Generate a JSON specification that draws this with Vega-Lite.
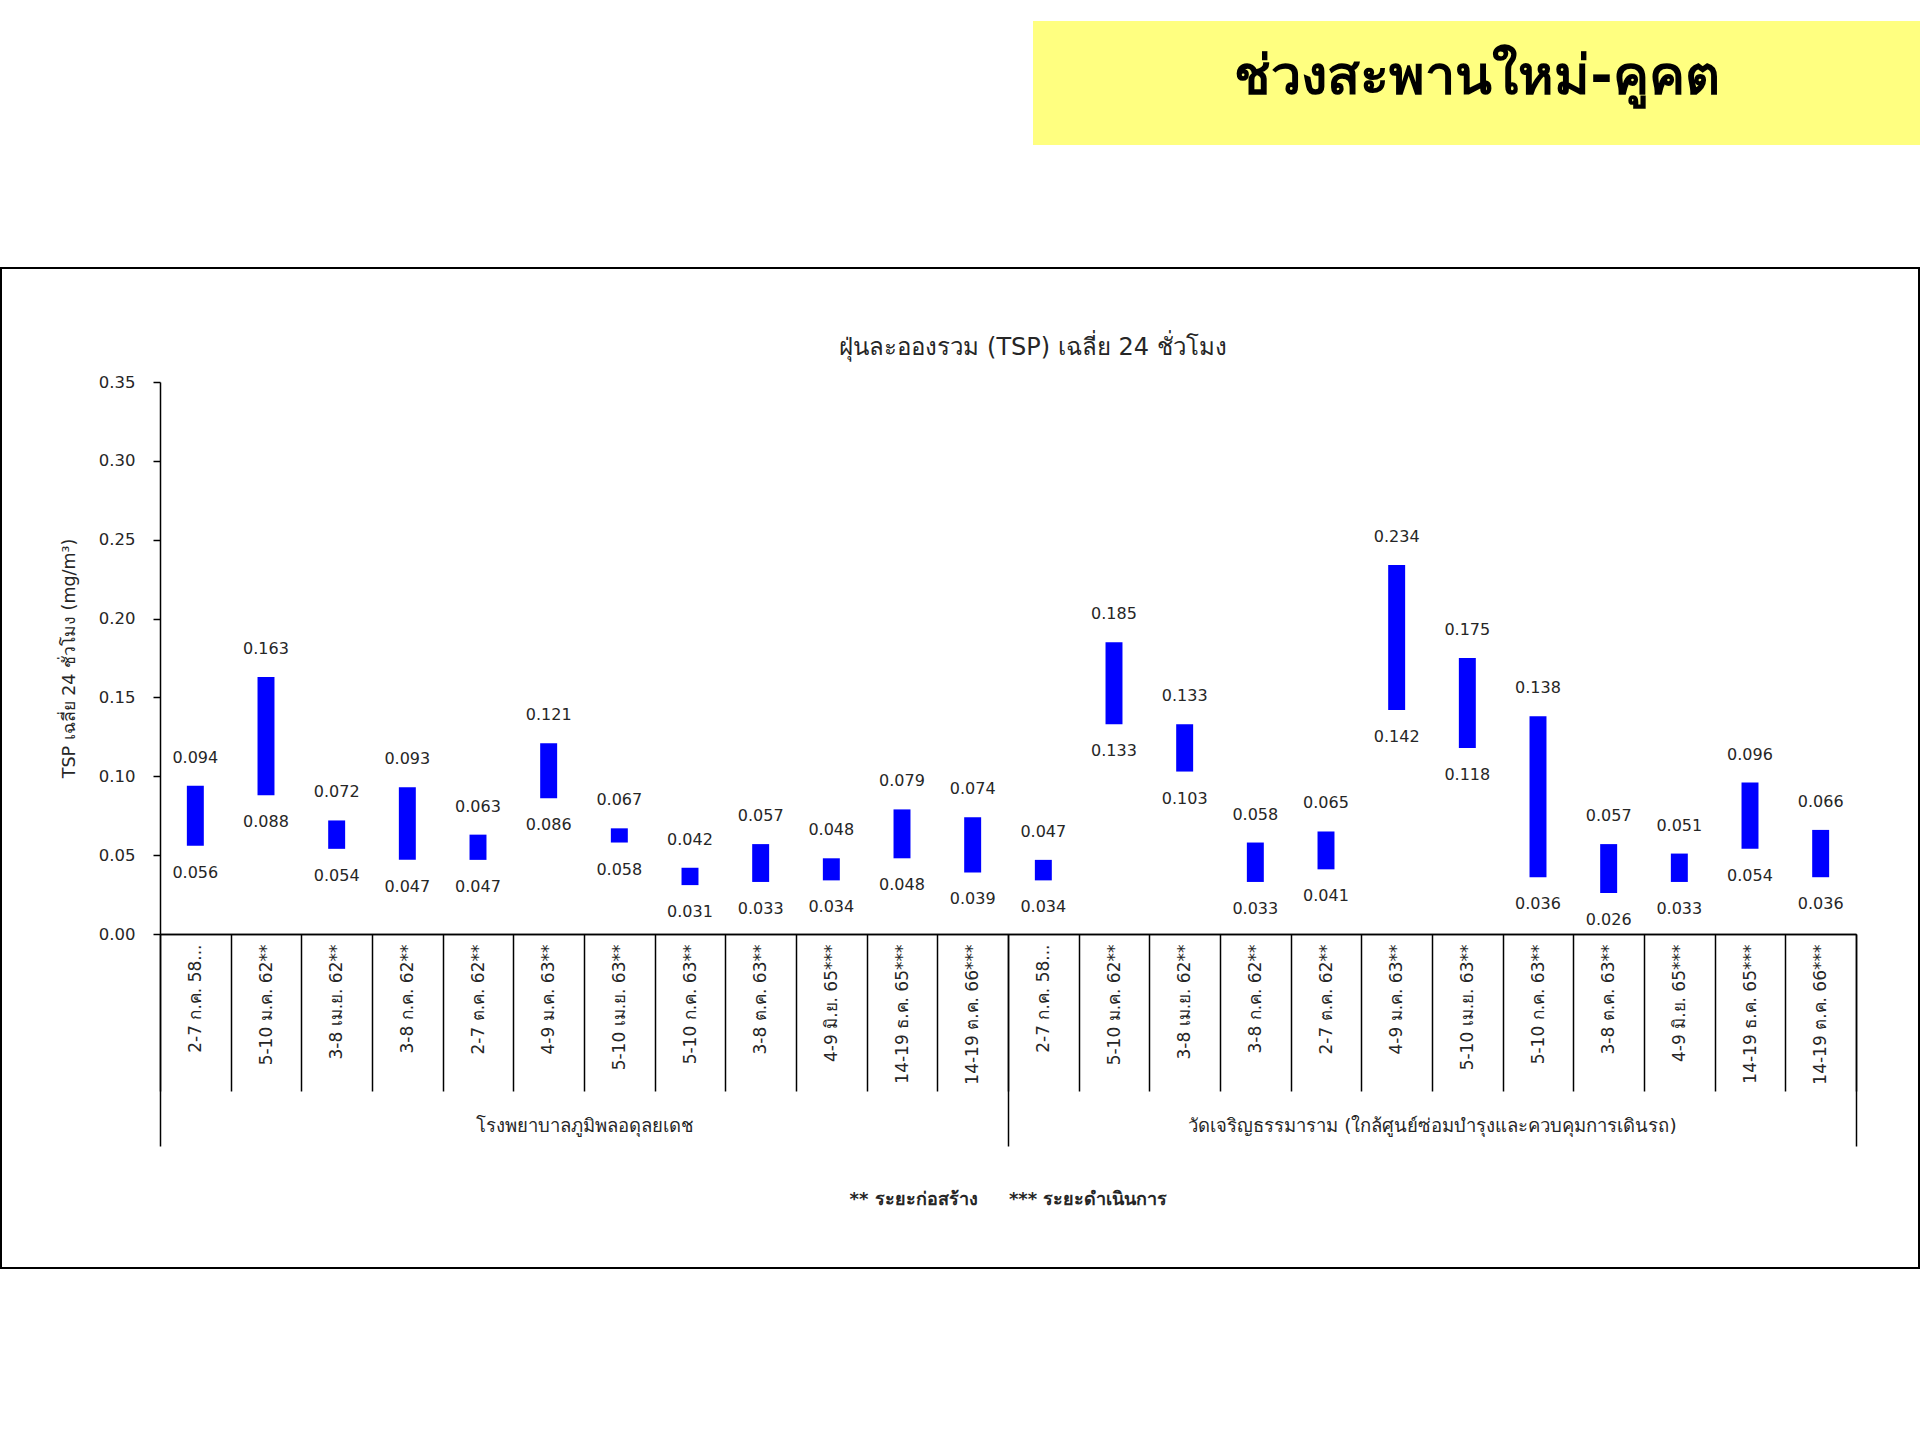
{
  "$schema": "https://vega.github.io/schema/vega-lite/v6.json",
  "background": "white",
  "padding": {"top": 21, "left": -9, "right": 0, "bottom": 0},
  "config": {"view": {"stroke": null}, "font": "DejaVu Sans"},
  "datasets": {
    "tsp": [
      {"g": "โรงพยาบาลภูมิพลอดุลยเดช", "k": "1|2-7 ก.ค. 58...", "min": 0.056, "max": 0.094},
      {"g": "โรงพยาบาลภูมิพลอดุลยเดช", "k": "1|5-10 ม.ค. 62**", "min": 0.088, "max": 0.163},
      {"g": "โรงพยาบาลภูมิพลอดุลยเดช", "k": "1|3-8 เม.ย. 62**", "min": 0.054, "max": 0.072},
      {"g": "โรงพยาบาลภูมิพลอดุลยเดช", "k": "1|3-8 ก.ค. 62**", "min": 0.047, "max": 0.093},
      {"g": "โรงพยาบาลภูมิพลอดุลยเดช", "k": "1|2-7 ต.ค. 62**", "min": 0.047, "max": 0.063},
      {"g": "โรงพยาบาลภูมิพลอดุลยเดช", "k": "1|4-9 ม.ค. 63**", "min": 0.086, "max": 0.121},
      {"g": "โรงพยาบาลภูมิพลอดุลยเดช", "k": "1|5-10 เม.ย. 63**", "min": 0.058, "max": 0.067},
      {"g": "โรงพยาบาลภูมิพลอดุลยเดช", "k": "1|5-10 ก.ค. 63**", "min": 0.031, "max": 0.042},
      {"g": "โรงพยาบาลภูมิพลอดุลยเดช", "k": "1|3-8 ต.ค. 63**", "min": 0.033, "max": 0.057},
      {"g": "โรงพยาบาลภูมิพลอดุลยเดช", "k": "1|4-9 มิ.ย. 65***", "min": 0.034, "max": 0.048},
      {"g": "โรงพยาบาลภูมิพลอดุลยเดช", "k": "1|14-19 ธ.ค. 65***", "min": 0.048, "max": 0.079},
      {"g": "โรงพยาบาลภูมิพลอดุลยเดช", "k": "1|14-19 ต.ค. 66***", "min": 0.039, "max": 0.074},
      {"g": "วัดเจริญธรรมาราม (ใกล้ศูนย์ซ่อมบำรุงและควบคุมการเดินรถ)", "k": "2|2-7 ก.ค. 58...", "min": 0.034, "max": 0.047},
      {"g": "วัดเจริญธรรมาราม (ใกล้ศูนย์ซ่อมบำรุงและควบคุมการเดินรถ)", "k": "2|5-10 ม.ค. 62**", "min": 0.133, "max": 0.185},
      {"g": "วัดเจริญธรรมาราม (ใกล้ศูนย์ซ่อมบำรุงและควบคุมการเดินรถ)", "k": "2|3-8 เม.ย. 62**", "min": 0.103, "max": 0.133},
      {"g": "วัดเจริญธรรมาราม (ใกล้ศูนย์ซ่อมบำรุงและควบคุมการเดินรถ)", "k": "2|3-8 ก.ค. 62**", "min": 0.033, "max": 0.058},
      {"g": "วัดเจริญธรรมาราม (ใกล้ศูนย์ซ่อมบำรุงและควบคุมการเดินรถ)", "k": "2|2-7 ต.ค. 62**", "min": 0.041, "max": 0.065},
      {"g": "วัดเจริญธรรมาราม (ใกล้ศูนย์ซ่อมบำรุงและควบคุมการเดินรถ)", "k": "2|4-9 ม.ค. 63**", "min": 0.142, "max": 0.234},
      {"g": "วัดเจริญธรรมาราม (ใกล้ศูนย์ซ่อมบำรุงและควบคุมการเดินรถ)", "k": "2|5-10 เม.ย. 63**", "min": 0.118, "max": 0.175},
      {"g": "วัดเจริญธรรมาราม (ใกล้ศูนย์ซ่อมบำรุงและควบคุมการเดินรถ)", "k": "2|5-10 ก.ค. 63**", "min": 0.036, "max": 0.138},
      {"g": "วัดเจริญธรรมาราม (ใกล้ศูนย์ซ่อมบำรุงและควบคุมการเดินรถ)", "k": "2|3-8 ต.ค. 63**", "min": 0.026, "max": 0.057},
      {"g": "วัดเจริญธรรมาราม (ใกล้ศูนย์ซ่อมบำรุงและควบคุมการเดินรถ)", "k": "2|4-9 มิ.ย. 65***", "min": 0.033, "max": 0.051},
      {"g": "วัดเจริญธรรมาราม (ใกล้ศูนย์ซ่อมบำรุงและควบคุมการเดินรถ)", "k": "2|14-19 ธ.ค. 65***", "min": 0.054, "max": 0.096},
      {"g": "วัดเจริญธรรมาราม (ใกล้ศูนย์ซ่อมบำรุงและควบคุมการเดินรถ)", "k": "2|14-19 ต.ค. 66***", "min": 0.036, "max": 0.066}
    ]
  },
  "spacing": 122,
  "vconcat": [
    {
      "spacing": 0,
      "hconcat": [
        {
          "width": 1032, "height": 124,
          "data": {"values": [{}]},
          "mark": {"type": "text"},
          "encoding": {"text": {"value": " "}}
        },
        {
          "width": 888, "height": 124,
          "view": {"fill": "#FFFF80", "stroke": null},
          "data": {"values": [{}]},
          "mark": {"type": "text", "fontSize": 54, "fontWeight": "bold", "align": "center", "baseline": "middle", "dy": -5, "color": "black"},
          "encoding": {"text": {"value": "ช่วงสะพานใหม่-คูคต"}}
        }
      ]
    },
    {
      "width": 1918, "height": 1000,
      "view": {"stroke": "black", "strokeWidth": 2},
      "title": {"text": "ฝุ่นละอองรวม (TSP) เฉลี่ย 24 ชั่วโมง", "offset": -104, "baseline": "middle", "dx": 73, "fontSize": 24, "fontWeight": "normal", "color": "#262626"},
      "data": {"name": "tsp"},
      "resolve": {"scale": {"x": "independent"}, "axis": {"x": "independent"}},
      "layer": [
        {
          "layer": [
            {
              "mark": {"type": "bar", "color": "#0000FF", "width": {"band": 0.24}},
              "encoding": {
                "x": {
                  "field": "k", "type": "nominal", "sort": null,
                  "scale": {"range": [159, 1855], "paddingInner": 0, "paddingOuter": 0},
                  "axis": {
                    "orient": "bottom", "title": null, "offset": -334,
                    "labelExpr": "split(datum.value, '|')[1]",
                    "labelAngle": -90, "labelAlign": "right", "labelBaseline": "middle",
                    "labelFontSize": 17, "labelColor": "#262626", "labelPadding": -147,
                    "tickBand": "extent", "tickSize": 157, "tickColor": "black", "tickWidth": 1.5,
                    "domainColor": "black", "domainWidth": 1.5, "grid": false
                  }
                },
                "y": {
                  "field": "min", "type": "quantitative",
                  "scale": {"domain": [0, 0.35], "range": [666, 114], "nice": false},
                  "axis": {
                    "title": "TSP เฉลี่ย 24 ชั่วโมง (mg/m³)", "offset": -159,
                    "values": [0, 0.05, 0.1, 0.15, 0.2, 0.25, 0.3, 0.35], "format": ".2f",
                    "grid": false, "domainColor": "black", "domainWidth": 1.5,
                    "tickColor": "black", "tickSize": 7, "tickWidth": 1.5,
                    "labelFontSize": 16.5, "labelColor": "#262626", "labelPadding": 18,
                    "titleFontSize": 17.5, "titleFontWeight": "normal", "titleColor": "#262626", "titlePadding": 20
                  }
                },
                "y2": {"field": "max"}
              }
            },
            {
              "mark": {"type": "text", "dy": -28, "fontSize": 16, "color": "#262626", "baseline": "middle"},
              "encoding": {
                "x": {"field": "k", "type": "nominal", "sort": null},
                "y": {"field": "max", "type": "quantitative"},
                "text": {"field": "max", "type": "quantitative", "format": ".3f"}
              }
            },
            {
              "mark": {"type": "text", "dy": 27, "fontSize": 16, "color": "#262626", "baseline": "middle"},
              "encoding": {
                "x": {"field": "k", "type": "nominal", "sort": null},
                "y": {"field": "min", "type": "quantitative"},
                "text": {"field": "min", "type": "quantitative", "format": ".3f"}
              }
            }
          ]
        },
        {
          "mark": {"type": "tick", "opacity": 0},
          "encoding": {
            "x": {
              "field": "g", "type": "nominal", "sort": null,
              "scale": {"range": [159, 1855], "paddingInner": 0, "paddingOuter": 0},
              "axis": {
                "orient": "bottom", "offset": -334,
                "title": "** ระยะก่อสร้าง\u00a0\u00a0\u00a0\u00a0\u00a0*** ระยะดำเนินการ",
                "titleFontSize": 18, "titleFontWeight": 600, "titleColor": "#262626", "titlePadding": 56,
                "labelAngle": 0, "labelAlign": "center", "labelBaseline": "middle",
                "labelFontSize": 18.5, "labelFontWeight": 500, "labelColor": "#262626", "labelPadding": -21, "labelLimit": 0,
                "tickBand": "extent", "tickSize": 212, "tickColor": "black", "tickWidth": 1.5,
                "domainColor": "black", "domainWidth": 1.5, "grid": false
              }
            }
          }
        }
      ]
    }
  ]
}
